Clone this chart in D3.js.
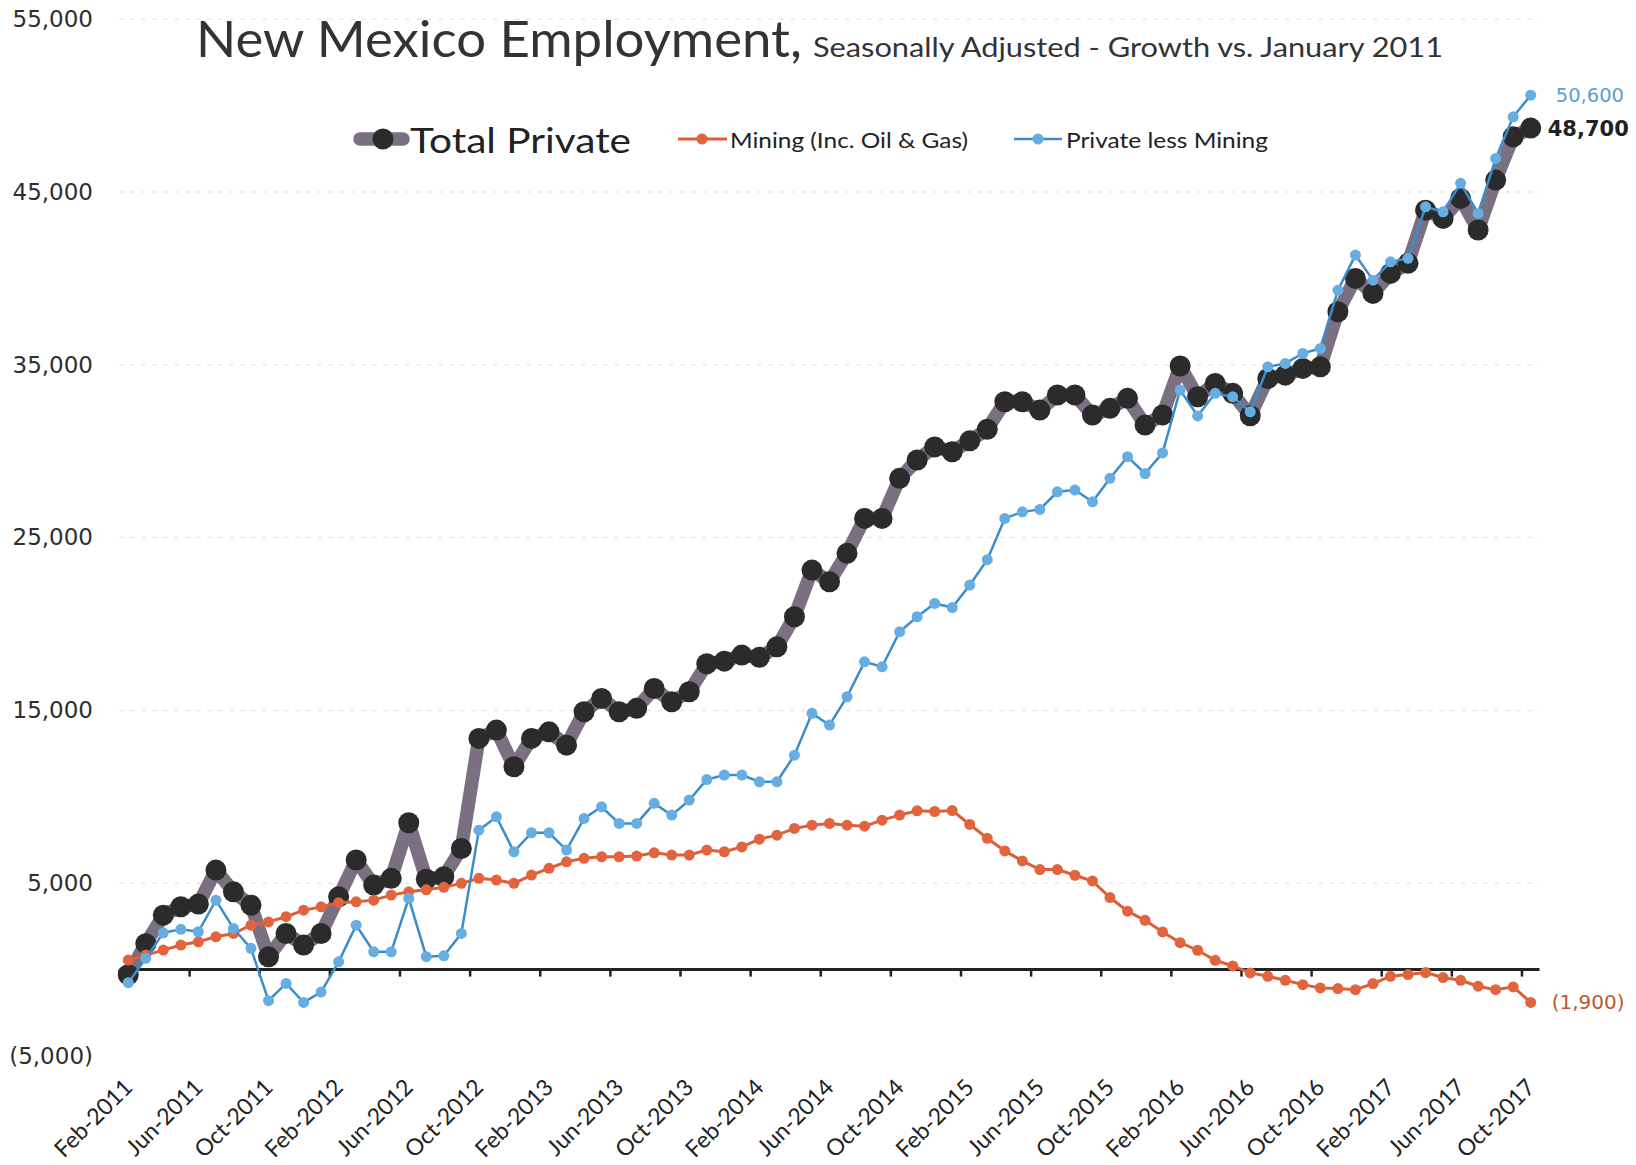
<!DOCTYPE html>
<html>
<head>
<meta charset="utf-8">
<script src="https://cdn.jsdelivr.net/npm/d3@7"></script>
<style>
  body { margin: 0; background: #fff; }
  svg { display: block; }
</style>
</head>
<body>
<svg id="chart" width="1636" height="1165"></svg>
<script>
// months, Feb-2011 .. Oct-2017
const months = [
  "Feb-2011","Mar-2011","Apr-2011","May-2011","Jun-2011","Jul-2011","Aug-2011","Sep-2011","Oct-2011","Nov-2011","Dec-2011",
  "Jan-2012","Feb-2012","Mar-2012","Apr-2012","May-2012","Jun-2012","Jul-2012","Aug-2012","Sep-2012","Oct-2012","Nov-2012","Dec-2012",
  "Jan-2013","Feb-2013","Mar-2013","Apr-2013","May-2013","Jun-2013","Jul-2013","Aug-2013","Sep-2013","Oct-2013","Nov-2013","Dec-2013",
  "Jan-2014","Feb-2014","Mar-2014","Apr-2014","May-2014","Jun-2014","Jul-2014","Aug-2014","Sep-2014","Oct-2014","Nov-2014","Dec-2014",
  "Jan-2015","Feb-2015","Mar-2015","Apr-2015","May-2015","Jun-2015","Jul-2015","Aug-2015","Sep-2015","Oct-2015","Nov-2015","Dec-2015",
  "Jan-2016","Feb-2016","Mar-2016","Apr-2016","May-2016","Jun-2016","Jul-2016","Aug-2016","Sep-2016","Oct-2016","Nov-2016","Dec-2016",
  "Jan-2017","Feb-2017","Mar-2017","Apr-2017","May-2017","Jun-2017","Jul-2017","Aug-2017","Sep-2017","Oct-2017"
];

const totalPrivate = [
  -300, 1500, 3150, 3640, 3790, 5760, 4500, 3730, 740, 2090,
  1420, 2090, 4210, 6340, 4890, 5280, 8500, 5230, 5370, 7010,
  13380, 13860, 11740, 13380, 13760, 12990, 14920, 15690, 14920, 15120,
  16270, 15500, 16080, 17700, 17850, 18200, 18070, 18680, 20420, 23120,
  22440, 24090, 26110, 26110, 28430, 29490, 30250, 29970, 30600, 31270,
  32860, 32860, 32380, 33250, 33250, 32090, 32480, 33060, 31510, 32100,
  34930, 33150, 33920, 33350, 32050, 34210, 34400, 34790, 34880, 38070,
  40000, 39130, 40290, 40870, 43950, 43470, 44630, 42800, 45690, 48200,
  48700
];

const mining = [
  550, 840, 1130, 1420, 1610, 1900, 2090, 2570, 2760, 3060,
  3440, 3630, 3870, 3920, 4020, 4310, 4500, 4620, 4760, 4990,
  5280, 5180, 4990, 5470, 5860, 6240, 6440, 6530, 6530, 6570,
  6760, 6630, 6630, 6920, 6820, 7100, 7550, 7780, 8170, 8360,
  8460, 8360, 8300, 8650, 8940, 9190, 9150, 9200, 8400, 7600,
  6870, 6290, 5790, 5790, 5460, 5130, 4170, 3380, 2850, 2180,
  1560, 1120, 540, 210, -190, -390, -620, -870, -1060, -1100,
  -1160, -810, -390, -290, -170, -460, -620, -960, -1160, -1000,
  -1900
];

const privateLessMining = [
  -760, 650, 2130, 2330, 2190, 4020, 2380, 1230, -1800, -800,
  -1900, -1300, 450, 2570, 1030, 1030, 4120, 750, 800, 2090,
  8070, 8840, 6820, 7920, 7920, 6920, 8750, 9420, 8460, 8460,
  9620, 8940, 9810, 11000, 11260, 11260, 10870, 10870, 12410, 14830,
  14150, 15790, 17810, 17520, 19550, 20420, 21190, 20950, 22250, 23720,
  26110, 26490, 26630, 27650, 27750, 27070, 28430, 29680, 28710, 29900,
  33540, 32040, 33350, 33150, 32280, 34880, 35080, 35660, 35950, 39320,
  41350, 39900, 40960, 41160, 44140, 43850, 45500, 43760, 46940, 49350,
  50600
];

const yTicks = [-5000, 5000, 15000, 25000, 35000, 45000, 55000];
const endLabels = ["50,600", "48,700", "(1,900)"];

const svg = d3.select("#chart");

const x = d3.scaleBand()
    .domain(months)
    .range([119.5, 1539.5])
    .padding(0);

const y = d3.scaleLinear()
    .domain([-5000, 55000])
    .range([1056, 19.2]);

const cx = d => x(d) + x.bandwidth() / 2;
const fmt = v => v < 0 ? "(" + d3.format(",")(-v) + ")" : d3.format(",")(v);

// faint dashed gridlines
svg.append("g")
    .selectAll("line")
    .data(yTicks.filter(t => t > 0))
    .enter()
    .append("line")
    .attr("x1", 119.5)
    .attr("x2", 1539.5)
    .attr("y1", d => y(d))
    .attr("y2", d => y(d))
    .attr("stroke", "#e6e6e6")
    .attr("stroke-width", 1.5)
    .attr("stroke-dasharray", "4,7");

// y axis labels
const yAxis = d3.axisLeft(y).tickValues(yTicks).tickFormat(fmt).tickSize(0).tickPadding(0);
const yg = svg.append("g")
    .attr("transform", "translate(93,0)")
    .call(yAxis);
yg.select(".domain").remove();
yg.selectAll("text")
    .attr("font-family", "DejaVu Sans, Verdana, sans-serif")
    .attr("font-size", 23)
    .attr("fill", "#2e2e2e");

// zero line with tick marks at category boundaries every 4 months
svg.append("line")
    .attr("x1", 119.5)
    .attr("x2", 1539.5)
    .attr("y1", y(0))
    .attr("y2", y(0))
    .attr("stroke", "#222")
    .attr("stroke-width", 3);

svg.append("g")
    .selectAll("line")
    .data(months.filter((m, i) => i % 4 === 0))
    .enter()
    .append("line")
    .attr("x1", d => x(d))
    .attr("x2", d => x(d))
    .attr("y1", y(0))
    .attr("y2", y(0) + 7)
    .attr("stroke", "#222")
    .attr("stroke-width", 2.5);

// x labels
svg.append("g")
    .selectAll("text")
    .data(months.filter((m, i) => i % 4 === 0))
    .enter()
    .append("text")
    .attr("transform", d => `translate(${cx(d)},1083) rotate(-45)`)
    .attr("text-anchor", "end")
    .attr("dy", "0.35em")
    .attr("font-family", "Lato, sans-serif")
    .attr("font-size", 23)
    .attr("fill", "#222")
    .text(d => d);

const lineGen = d3.line()
    .x((d, i) => cx(months[i]))
    .y(d => y(d));

// Total Private
svg.append("path")
    .datum(totalPrivate)
    .attr("d", lineGen)
    .attr("fill", "none")
    .attr("stroke", "#7b7081")
    .attr("stroke-width", 13.5)
    .attr("stroke-linejoin", "round")
    .attr("stroke-linecap", "round");

svg.append("g")
    .selectAll("circle")
    .data(totalPrivate)
    .enter()
    .append("circle")
    .attr("cx", (d, i) => cx(months[i]))
    .attr("cy", d => y(d))
    .attr("r", 10.5)
    .attr("fill", "#2b2b2b");

// Mining
svg.append("path")
    .datum(mining)
    .attr("d", lineGen)
    .attr("fill", "none")
    .attr("stroke", "#dd5f38")
    .attr("stroke-width", 3);

svg.append("g")
    .selectAll("circle")
    .data(mining)
    .enter()
    .append("circle")
    .attr("cx", (d, i) => cx(months[i]))
    .attr("cy", d => y(d))
    .attr("r", 5.5)
    .attr("fill", "#e2643f");

// Private less Mining
svg.append("path")
    .datum(privateLessMining)
    .attr("d", lineGen)
    .attr("fill", "none")
    .attr("stroke", "#3a8dcd")
    .attr("stroke-width", 2.5);

svg.append("g")
    .selectAll("circle")
    .data(privateLessMining)
    .enter()
    .append("circle")
    .attr("cx", (d, i) => cx(months[i]))
    .attr("cy", d => y(d))
    .attr("r", 5.5)
    .attr("fill", "#66aee2");

// end labels
const last = months[months.length - 1];
svg.append("text")
    .attr("x", cx(last) + 25)
    .attr("y", y(privateLessMining[80]) + 7)
    .attr("font-family", "DejaVu Sans, Verdana, sans-serif")
    .attr("font-size", 19.5)
    .attr("fill", "#5b9fd5")
    .text(endLabels[0]);

svg.append("text")
    .attr("x", cx(last) + 17)
    .attr("y", y(totalPrivate[80]) + 8)
    .attr("font-family", "DejaVu Sans, Verdana, sans-serif")
    .attr("font-weight", "bold")
    .attr("font-size", 21)
    .attr("fill", "#222")
    .text(endLabels[1]);

svg.append("text")
    .attr("x", cx(last) + 21)
    .attr("y", y(mining[80]) + 7)
    .attr("font-family", "DejaVu Sans, Verdana, sans-serif")
    .attr("font-size", 20)
    .attr("fill", "#c0562e")
    .text(endLabels[2]);

// title
svg.append("text")
    .attr("x", 196)
    .attr("y", 57)
    .attr("font-family", "Lato, sans-serif")
    .attr("font-size", 50)
    .attr("fill", "#333")
    .attr("textLength", 606)
    .attr("lengthAdjust", "spacingAndGlyphs")
    .text("New Mexico Employment,");

svg.append("text")
    .attr("x", 813)
    .attr("y", 57)
    .attr("font-family", "Lato, sans-serif")
    .attr("font-size", 26)
    .attr("fill", "#333")
    .attr("textLength", 630)
    .attr("lengthAdjust", "spacingAndGlyphs")
    .text("Seasonally Adjusted - Growth vs. January 2011");

// legend
const legend = svg.append("g");

legend.append("line")
    .attr("x1", 360).attr("x2", 403)
    .attr("y1", 139).attr("y2", 139)
    .attr("stroke", "#7b7081")
    .attr("stroke-width", 13.5)
    .attr("stroke-linecap", "round");
legend.append("circle")
    .attr("cx", 383).attr("cy", 139).attr("r", 10.5)
    .attr("fill", "#2b2b2b");
legend.append("text")
    .attr("x", 410).attr("y", 153)
    .attr("font-family", "Lato, sans-serif")
    .attr("font-size", 35)
    .attr("fill", "#222")
    .attr("textLength", 221)
    .attr("lengthAdjust", "spacingAndGlyphs")
    .text("Total Private");

legend.append("line")
    .attr("x1", 678).attr("x2", 727)
    .attr("y1", 139).attr("y2", 139)
    .attr("stroke", "#dd5f38")
    .attr("stroke-width", 3);
legend.append("circle")
    .attr("cx", 702).attr("cy", 139).attr("r", 5.5)
    .attr("fill", "#e2643f");
legend.append("text")
    .attr("x", 730).attr("y", 148)
    .attr("font-family", "Lato, sans-serif")
    .attr("font-size", 22)
    .attr("fill", "#222")
    .attr("textLength", 238)
    .attr("lengthAdjust", "spacingAndGlyphs")
    .text("Mining (Inc. Oil & Gas)");

legend.append("line")
    .attr("x1", 1014).attr("x2", 1062)
    .attr("y1", 139).attr("y2", 139)
    .attr("stroke", "#3a8dcd")
    .attr("stroke-width", 2.5);
legend.append("circle")
    .attr("cx", 1038).attr("cy", 139).attr("r", 5.5)
    .attr("fill", "#66aee2");
legend.append("text")
    .attr("x", 1066).attr("y", 148)
    .attr("font-family", "Lato, sans-serif")
    .attr("font-size", 22)
    .attr("fill", "#222")
    .attr("textLength", 202)
    .attr("lengthAdjust", "spacingAndGlyphs")
    .text("Private less Mining");
</script>
</body>
</html>
